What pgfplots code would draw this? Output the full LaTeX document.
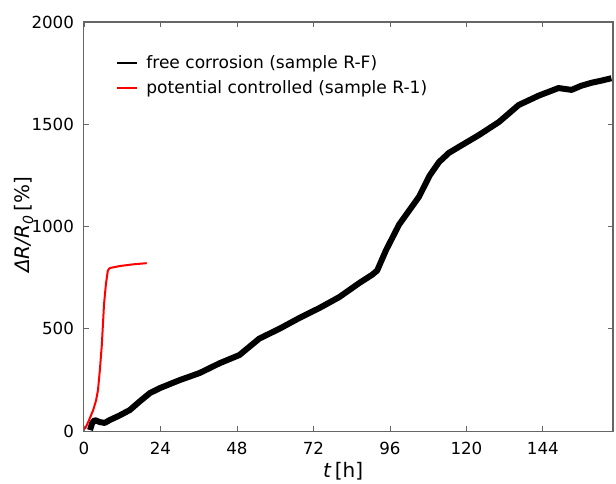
\documentclass[border=0pt]{standalone}
\usepackage{pgfplots}
\pgfplotsset{compat=1.18}
\usepackage{fontspec}
\setmainfont{DejaVu Sans}

% free corrosion, sample R-F
\pgfplotstableread{
t     r
1.9   5
2.6   40
3.4   54
5.0   44
6.5   40
8.1   54
11    75
14.4  103
17.5  145
20.7  186
23.8  210
30    249
36.3  284
42.6  332
48.8  372
55    452
61.3  500
67.6  553
73.8  601
80.1  655
86.4  724
90.5  765
92.0  785
94.8  885
98.9  1010
105.1 1145
108.5 1250
111.4 1315
114.5 1360
117.6 1389
123.9 1447
130.2 1511
136.4 1594
142.7 1640
148.9 1677
153.0 1668
156   1688
159.3 1703
162   1712
165.5 1725
}\freecorr

% potential controlled, sample R-1
\pgfplotstableread{
t     r
0.3   10
1.5   50
2.9   103
3.8   150
4.4   200
5.0   300
5.6   420
6.3   620
6.9   720
7.5   785
8.1   797
11.3  807
15.3  815
19.7  821
}\potcont

\begin{document}
\begin{tikzpicture}[font=\fontsize{12.5}{15}\selectfont]
\begin{axis}[
    scale only axis,
    width=397pt, height=307pt,
    xmin=0, xmax=166, ymin=0, ymax=2000,
    xtick={0,24,...,144},
    ytick={0,500,...,2000},
    tick align=inside,
    major tick length=4pt,
    axis line style={gray!80!black, line width=0.8pt},
    tick style={gray!80!black, line width=0.6pt},
    /pgf/number format/assume math mode=true,
    /pgf/number format/1000 sep={},
    xticklabel style={yshift=-5pt},
    yticklabel style={xshift=-4pt},
    xlabel={\textit{t}\,[h]},
    ylabel={\textit{ΔR/R}\textsubscript{\textit{0}}\,[\%]},
    xlabel style={at={(axis description cs:0.49,-0.114)}, anchor=base,
      font=\fontsize{15}{18}\selectfont},
    ylabel style={at={(axis description cs:-0.103,0.504)}, anchor=base,
      font=\fontsize{15}{18}\selectfont},
    legend style={draw=none, fill=none, at={(0.053,0.932)}, anchor=north west,
      font=\fontsize{12.8}{15.5}\selectfont, row sep=4pt,
      /tikz/every odd column/.append style={column sep=4pt}},
    legend cell align=left,
    legend image code/.code={\draw[#1, line width=1.5pt] (0cm,0cm) -- (0.53cm,0cm);},
]
\addplot[black, line width=4.5pt, line join=round] table[x=t, y=r] {\freecorr};
\addlegendentry{free corrosion (sample R-F)}
\addplot[red, line width=1.5pt, line join=round] table[x=t, y=r] {\potcont};
\addlegendentry{potential controlled (sample R-1)}
\end{axis}
\pgfresetboundingbox
\path ([shift={(-63pt,-39pt)}]current axis.south west)
  rectangle ([shift={(2.25pt,16.5pt)}]current axis.north east);
\end{tikzpicture}
\end{document}
